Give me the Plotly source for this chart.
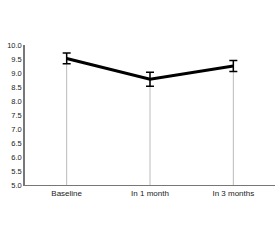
import plotly.graph_objects as go

categories = ["Baseline", "In 1 month", "In 3 months"]
values = [9.52, 8.78, 9.25]
errors = [0.19, 0.25, 0.2]
y_ticks = [5.0, 5.5, 6.0, 6.5, 7.0, 7.5, 8.0, 8.5, 9.0, 9.5, 10.0]
y_min = 5.0

fig = go.Figure()
# drop lines
for c, v in zip(categories, values):
    fig.add_trace(go.Scatter(x=[c, c], y=[y_min, v], mode="lines",
                             line=dict(color="#bbbbbb", width=1), showlegend=False, hoverinfo="skip"))
fig.add_trace(go.Scatter(x=categories, y=values, mode="lines",
                         line=dict(color="black", width=3),
                         error_y=dict(type="data", array=errors, color="black", thickness=1.5, width=4),
                         showlegend=False))

fig.update_layout(
    width=280, height=240,
    margin=dict(l=25, r=5, t=45, b=55),
    plot_bgcolor="white", paper_bgcolor="white",
    font=dict(family="Liberation Sans, Arial", size=8, color="#222222"),
    xaxis=dict(type="category", range=[-0.5, 2.5], showgrid=False, showline=True,
               linecolor="#777777", linewidth=1, ticks="", zeroline=False,
               tickfont=dict(color="#222222", size=8)),
    yaxis=dict(range=[5, 10], tickvals=y_ticks, ticktext=[f"{t:.1f}" for t in y_ticks],
               showgrid=False, showline=True, linecolor="#777777", linewidth=1.5,
               ticks="", zeroline=False, tickfont=dict(color="#222222", size=7.5)),
)
fig.write_html("out.html")
